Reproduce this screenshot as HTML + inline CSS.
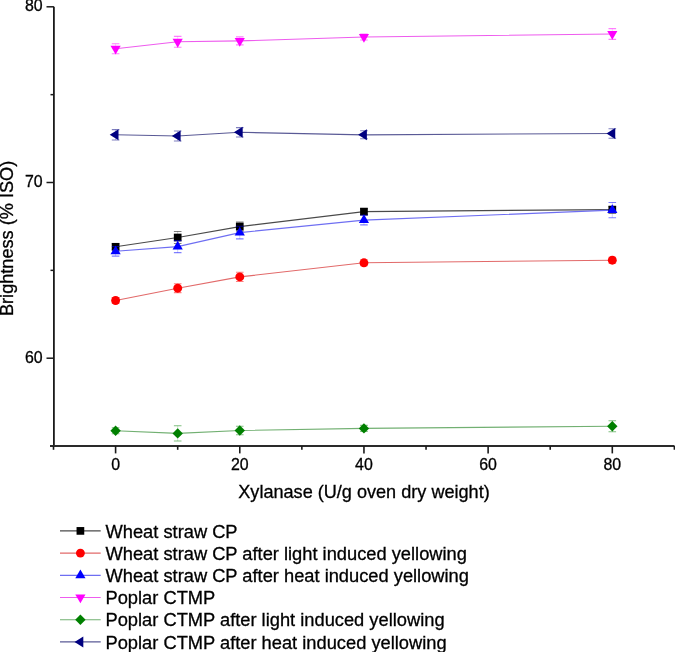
<!DOCTYPE html>
<html><head><meta charset="utf-8"><style>
html,body{margin:0;padding:0;background:#fff;}
body{width:675px;height:652px;overflow:hidden;font-family:"Liberation Sans",sans-serif;}
svg{display:block;}
text{stroke:#000;stroke-width:0.3px;}
</style></head><body>
<svg style="will-change:transform" width="675" height="652" viewBox="0 0 675 652">
<path d="M53.9 6.8V446.0" stroke="#1a1a1a" stroke-width="1.8" fill="none"/>
<path d="M50 446.0H674.5" stroke="#2a2a2a" stroke-width="1.9" fill="none"/>
<path d="M46.5 6.80H53.9" stroke="#1a1a1a" stroke-width="1.5"/>
<path d="M46.5 182.50H53.9" stroke="#1a1a1a" stroke-width="1.5"/>
<path d="M46.5 358.20H53.9" stroke="#1a1a1a" stroke-width="1.5"/>
<path d="M50.5 94.65H53.9" stroke="#1a1a1a" stroke-width="1.5"/>
<path d="M50.5 270.35H53.9" stroke="#1a1a1a" stroke-width="1.5"/>
<path d="M115.60 446.0V453.4" stroke="#1a1a1a" stroke-width="1.6"/>
<path d="M239.77 446.0V453.4" stroke="#1a1a1a" stroke-width="1.6"/>
<path d="M363.95 446.0V453.4" stroke="#1a1a1a" stroke-width="1.6"/>
<path d="M488.12 446.0V453.4" stroke="#1a1a1a" stroke-width="1.6"/>
<path d="M612.30 446.0V453.4" stroke="#1a1a1a" stroke-width="1.6"/>
<path d="M53.51 446.0V449.8" stroke="#1a1a1a" stroke-width="1.6"/>
<path d="M177.69 446.0V449.8" stroke="#1a1a1a" stroke-width="1.6"/>
<path d="M301.86 446.0V449.8" stroke="#1a1a1a" stroke-width="1.6"/>
<path d="M426.04 446.0V449.8" stroke="#1a1a1a" stroke-width="1.6"/>
<path d="M550.21 446.0V449.8" stroke="#1a1a1a" stroke-width="1.6"/>
<path d="M674.39 446.0V449.8" stroke="#1a1a1a" stroke-width="1.6"/>
<text x="42.6" y="11.10" text-anchor="end" font-size="15.9" font-family="Liberation Sans, sans-serif">80</text>
<text x="42.6" y="186.80" text-anchor="end" font-size="15.9" font-family="Liberation Sans, sans-serif">70</text>
<text x="42.6" y="362.50" text-anchor="end" font-size="15.9" font-family="Liberation Sans, sans-serif">60</text>
<text x="115.60" y="469.5" text-anchor="middle" font-size="15.9" font-family="Liberation Sans, sans-serif">0</text>
<text x="239.77" y="469.5" text-anchor="middle" font-size="15.9" font-family="Liberation Sans, sans-serif">20</text>
<text x="363.95" y="469.5" text-anchor="middle" font-size="15.9" font-family="Liberation Sans, sans-serif">40</text>
<text x="488.12" y="469.5" text-anchor="middle" font-size="15.9" font-family="Liberation Sans, sans-serif">60</text>
<text x="612.30" y="469.5" text-anchor="middle" font-size="15.9" font-family="Liberation Sans, sans-serif">80</text>
<text x="364" y="498.2" text-anchor="middle" font-size="18.1" font-family="Liberation Sans, sans-serif">Xylanase (U/g oven dry weight)</text>
<text transform="translate(13.3 238.4) rotate(-90)" x="0" y="0" text-anchor="middle" font-size="18.15" font-family="Liberation Sans, sans-serif">Brightness (% ISO)</text>
<polyline points="115.60,246.80 177.69,237.50 239.77,226.60 363.95,211.60 612.30,209.60" fill="none" stroke="#4a4a4a" stroke-width="1.15"/>
<polyline points="115.60,300.50 177.69,288.20 239.77,276.90 363.95,262.80 612.30,260.20" fill="none" stroke="#e26a6a" stroke-width="1.15"/>
<polyline points="115.60,251.30 177.69,246.60 239.77,232.60 363.95,220.10 612.30,210.10" fill="none" stroke="#6e6ef2" stroke-width="1.15"/>
<polyline points="115.60,48.70 177.69,41.80 239.77,40.90 363.95,37.00 612.30,34.00" fill="none" stroke="#ee5cee" stroke-width="1.15"/>
<polyline points="115.60,430.70 177.69,433.40 239.77,430.50 363.95,428.40 612.30,426.30" fill="none" stroke="#72b072" stroke-width="1.15"/>
<polyline points="115.60,134.80 177.69,136.00 239.77,132.30 363.95,134.80 612.30,133.50" fill="none" stroke="#5a5a96" stroke-width="1.15"/>
<path d="M115.60 243.80V249.80" stroke="#000000" stroke-width="0.8" stroke-opacity="0.25" fill="none"/>
<path d="M111.80 243.80H119.40M111.80 249.80H119.40" stroke="#000000" stroke-width="1.1" stroke-opacity="0.5" fill="none"/>
<path d="M177.69 231.50V243.50" stroke="#000000" stroke-width="0.8" stroke-opacity="0.25" fill="none"/>
<path d="M173.89 231.50H181.49M173.89 243.50H181.49" stroke="#000000" stroke-width="1.1" stroke-opacity="0.5" fill="none"/>
<path d="M239.77 222.10V231.10" stroke="#000000" stroke-width="0.8" stroke-opacity="0.25" fill="none"/>
<path d="M235.97 222.10H243.57M235.97 231.10H243.57" stroke="#000000" stroke-width="1.1" stroke-opacity="0.5" fill="none"/>
<path d="M363.95 208.60V214.60" stroke="#000000" stroke-width="0.8" stroke-opacity="0.25" fill="none"/>
<path d="M360.15 208.60H367.75M360.15 214.60H367.75" stroke="#000000" stroke-width="1.1" stroke-opacity="0.5" fill="none"/>
<path d="M612.30 206.60V212.60" stroke="#000000" stroke-width="0.8" stroke-opacity="0.25" fill="none"/>
<path d="M608.50 206.60H616.10M608.50 212.60H616.10" stroke="#000000" stroke-width="1.1" stroke-opacity="0.5" fill="none"/>
<rect x="111.75" y="242.95" width="7.70" height="7.70" fill="#000000"/>
<rect x="173.84" y="233.65" width="7.70" height="7.70" fill="#000000"/>
<rect x="235.92" y="222.75" width="7.70" height="7.70" fill="#000000"/>
<rect x="360.10" y="207.75" width="7.70" height="7.70" fill="#000000"/>
<rect x="608.45" y="205.75" width="7.70" height="7.70" fill="#000000"/>
<path d="M115.60 297.50V303.50" stroke="#ff0000" stroke-width="0.8" stroke-opacity="0.25" fill="none"/>
<path d="M111.80 297.50H119.40M111.80 303.50H119.40" stroke="#ff0000" stroke-width="1.1" stroke-opacity="0.5" fill="none"/>
<path d="M177.69 283.80V292.60" stroke="#ff0000" stroke-width="0.8" stroke-opacity="0.25" fill="none"/>
<path d="M173.89 283.80H181.49M173.89 292.60H181.49" stroke="#ff0000" stroke-width="1.1" stroke-opacity="0.5" fill="none"/>
<path d="M239.77 272.30V281.50" stroke="#ff0000" stroke-width="0.8" stroke-opacity="0.25" fill="none"/>
<path d="M235.97 272.30H243.57M235.97 281.50H243.57" stroke="#ff0000" stroke-width="1.1" stroke-opacity="0.5" fill="none"/>
<path d="M363.95 259.80V265.80" stroke="#ff0000" stroke-width="0.8" stroke-opacity="0.25" fill="none"/>
<path d="M360.15 259.80H367.75M360.15 265.80H367.75" stroke="#ff0000" stroke-width="1.1" stroke-opacity="0.5" fill="none"/>
<path d="M612.30 257.20V263.20" stroke="#ff0000" stroke-width="0.8" stroke-opacity="0.25" fill="none"/>
<path d="M608.50 257.20H616.10M608.50 263.20H616.10" stroke="#ff0000" stroke-width="1.1" stroke-opacity="0.5" fill="none"/>
<circle cx="115.60" cy="300.50" r="4.45" fill="#ff0000"/>
<circle cx="177.69" cy="288.20" r="4.45" fill="#ff0000"/>
<circle cx="239.77" cy="276.90" r="4.45" fill="#ff0000"/>
<circle cx="363.95" cy="262.80" r="4.45" fill="#ff0000"/>
<circle cx="612.30" cy="260.20" r="4.45" fill="#ff0000"/>
<path d="M115.60 246.50V256.10" stroke="#0000ff" stroke-width="0.8" stroke-opacity="0.25" fill="none"/>
<path d="M111.80 246.50H119.40M111.80 256.10H119.40" stroke="#0000ff" stroke-width="1.1" stroke-opacity="0.5" fill="none"/>
<path d="M177.69 240.60V252.60" stroke="#0000ff" stroke-width="0.8" stroke-opacity="0.25" fill="none"/>
<path d="M173.89 240.60H181.49M173.89 252.60H181.49" stroke="#0000ff" stroke-width="1.1" stroke-opacity="0.5" fill="none"/>
<path d="M239.77 226.30V238.90" stroke="#0000ff" stroke-width="0.8" stroke-opacity="0.25" fill="none"/>
<path d="M235.97 226.30H243.57M235.97 238.90H243.57" stroke="#0000ff" stroke-width="1.1" stroke-opacity="0.5" fill="none"/>
<path d="M363.95 215.30V224.90" stroke="#0000ff" stroke-width="0.8" stroke-opacity="0.25" fill="none"/>
<path d="M360.15 215.30H367.75M360.15 224.90H367.75" stroke="#0000ff" stroke-width="1.1" stroke-opacity="0.5" fill="none"/>
<path d="M612.30 202.50V217.70" stroke="#0000ff" stroke-width="0.8" stroke-opacity="0.25" fill="none"/>
<path d="M608.50 202.50H616.10M608.50 217.70H616.10" stroke="#0000ff" stroke-width="1.1" stroke-opacity="0.5" fill="none"/>
<path d="M115.60 245.43L120.70 254.23L110.50 254.23Z" fill="#0000ff"/>
<path d="M177.69 240.73L182.79 249.53L172.59 249.53Z" fill="#0000ff"/>
<path d="M239.77 226.73L244.87 235.53L234.67 235.53Z" fill="#0000ff"/>
<path d="M363.95 214.23L369.05 223.03L358.85 223.03Z" fill="#0000ff"/>
<path d="M612.30 204.23L617.40 213.03L607.20 213.03Z" fill="#0000ff"/>
<path d="M115.60 43.70V53.70" stroke="#ff00ff" stroke-width="0.8" stroke-opacity="0.25" fill="none"/>
<path d="M111.80 43.70H119.40M111.80 53.70H119.40" stroke="#ff00ff" stroke-width="1.1" stroke-opacity="0.5" fill="none"/>
<path d="M177.69 36.40V47.20" stroke="#ff00ff" stroke-width="0.8" stroke-opacity="0.25" fill="none"/>
<path d="M173.89 36.40H181.49M173.89 47.20H181.49" stroke="#ff00ff" stroke-width="1.1" stroke-opacity="0.5" fill="none"/>
<path d="M239.77 36.90V44.90" stroke="#ff00ff" stroke-width="0.8" stroke-opacity="0.25" fill="none"/>
<path d="M235.97 36.90H243.57M235.97 44.90H243.57" stroke="#ff00ff" stroke-width="1.1" stroke-opacity="0.5" fill="none"/>
<path d="M363.95 34.00V40.00" stroke="#ff00ff" stroke-width="0.8" stroke-opacity="0.25" fill="none"/>
<path d="M360.15 34.00H367.75M360.15 40.00H367.75" stroke="#ff00ff" stroke-width="1.1" stroke-opacity="0.5" fill="none"/>
<path d="M612.30 28.60V39.40" stroke="#ff00ff" stroke-width="0.8" stroke-opacity="0.25" fill="none"/>
<path d="M608.50 28.60H616.10M608.50 39.40H616.10" stroke="#ff00ff" stroke-width="1.1" stroke-opacity="0.5" fill="none"/>
<path d="M115.60 54.57L120.70 45.77L110.50 45.77Z" fill="#ff00ff"/>
<path d="M177.69 47.67L182.79 38.87L172.59 38.87Z" fill="#ff00ff"/>
<path d="M239.77 46.77L244.87 37.97L234.67 37.97Z" fill="#ff00ff"/>
<path d="M363.95 42.87L369.05 34.07L358.85 34.07Z" fill="#ff00ff"/>
<path d="M612.30 39.87L617.40 31.07L607.20 31.07Z" fill="#ff00ff"/>
<path d="M115.60 427.70V433.70" stroke="#008000" stroke-width="0.8" stroke-opacity="0.25" fill="none"/>
<path d="M111.80 427.70H119.40M111.80 433.70H119.40" stroke="#008000" stroke-width="1.1" stroke-opacity="0.5" fill="none"/>
<path d="M177.69 425.80V441.00" stroke="#008000" stroke-width="0.8" stroke-opacity="0.25" fill="none"/>
<path d="M173.89 425.80H181.49M173.89 441.00H181.49" stroke="#008000" stroke-width="1.1" stroke-opacity="0.5" fill="none"/>
<path d="M239.77 426.20V434.80" stroke="#008000" stroke-width="0.8" stroke-opacity="0.25" fill="none"/>
<path d="M235.97 426.20H243.57M235.97 434.80H243.57" stroke="#008000" stroke-width="1.1" stroke-opacity="0.5" fill="none"/>
<path d="M363.95 425.40V431.40" stroke="#008000" stroke-width="0.8" stroke-opacity="0.25" fill="none"/>
<path d="M360.15 425.40H367.75M360.15 431.40H367.75" stroke="#008000" stroke-width="1.1" stroke-opacity="0.5" fill="none"/>
<path d="M612.30 420.80V431.80" stroke="#008000" stroke-width="0.8" stroke-opacity="0.25" fill="none"/>
<path d="M608.50 420.80H616.10M608.50 431.80H616.10" stroke="#008000" stroke-width="1.1" stroke-opacity="0.5" fill="none"/>
<path d="M115.60 425.50L120.80 430.70L115.60 435.90L110.40 430.70Z" fill="#008000"/>
<path d="M177.69 428.20L182.89 433.40L177.69 438.60L172.49 433.40Z" fill="#008000"/>
<path d="M239.77 425.30L244.97 430.50L239.77 435.70L234.57 430.50Z" fill="#008000"/>
<path d="M363.95 423.20L369.15 428.40L363.95 433.60L358.75 428.40Z" fill="#008000"/>
<path d="M612.30 421.10L617.50 426.30L612.30 431.50L607.10 426.30Z" fill="#008000"/>
<path d="M115.60 129.60V140.00" stroke="#000080" stroke-width="0.8" stroke-opacity="0.25" fill="none"/>
<path d="M111.80 129.60H119.40M111.80 140.00H119.40" stroke="#000080" stroke-width="1.1" stroke-opacity="0.5" fill="none"/>
<path d="M177.69 131.00V141.00" stroke="#000080" stroke-width="0.8" stroke-opacity="0.25" fill="none"/>
<path d="M173.89 131.00H181.49M173.89 141.00H181.49" stroke="#000080" stroke-width="1.1" stroke-opacity="0.5" fill="none"/>
<path d="M239.77 127.60V137.00" stroke="#000080" stroke-width="0.8" stroke-opacity="0.25" fill="none"/>
<path d="M235.97 127.60H243.57M235.97 137.00H243.57" stroke="#000080" stroke-width="1.1" stroke-opacity="0.5" fill="none"/>
<path d="M363.95 130.80V138.80" stroke="#000080" stroke-width="0.8" stroke-opacity="0.25" fill="none"/>
<path d="M360.15 130.80H367.75M360.15 138.80H367.75" stroke="#000080" stroke-width="1.1" stroke-opacity="0.5" fill="none"/>
<path d="M612.30 128.70V138.30" stroke="#000080" stroke-width="0.8" stroke-opacity="0.25" fill="none"/>
<path d="M608.50 128.70H616.10M608.50 138.30H616.10" stroke="#000080" stroke-width="1.1" stroke-opacity="0.5" fill="none"/>
<path d="M109.73 134.80L118.53 129.30L118.53 140.30Z" fill="#000080"/>
<path d="M171.82 136.00L180.62 130.50L180.62 141.50Z" fill="#000080"/>
<path d="M233.91 132.30L242.71 126.80L242.71 137.80Z" fill="#000080"/>
<path d="M358.08 134.80L366.88 129.30L366.88 140.30Z" fill="#000080"/>
<path d="M606.43 133.50L615.23 128.00L615.23 139.00Z" fill="#000080"/>
<path d="M60 530.90H100.7" stroke="#4a4a4a" stroke-width="1.15"/>
<rect x="76.55" y="527.05" width="7.70" height="7.70" fill="#000000"/>
<text x="105.5" y="537.50" font-size="18.3" font-family="Liberation Sans, sans-serif">Wheat straw CP</text>
<path d="M60 553.10H100.7" stroke="#e26a6a" stroke-width="1.15"/>
<circle cx="80.40" cy="553.10" r="4.45" fill="#ff0000"/>
<text x="105.5" y="559.70" font-size="18.3" font-family="Liberation Sans, sans-serif">Wheat straw CP after light induced yellowing</text>
<path d="M60 575.30H100.7" stroke="#6e6ef2" stroke-width="1.15"/>
<path d="M80.40 569.43L85.50 578.23L75.30 578.23Z" fill="#0000ff"/>
<text x="105.5" y="581.90" font-size="18.3" font-family="Liberation Sans, sans-serif">Wheat straw CP after heat induced yellowing</text>
<path d="M60 597.50H100.7" stroke="#ee5cee" stroke-width="1.15"/>
<path d="M80.40 603.37L85.50 594.57L75.30 594.57Z" fill="#ff00ff"/>
<text x="105.5" y="604.10" font-size="18.3" font-family="Liberation Sans, sans-serif">Poplar CTMP</text>
<path d="M60 619.70H100.7" stroke="#72b072" stroke-width="1.15"/>
<path d="M80.40 614.50L85.60 619.70L80.40 624.90L75.20 619.70Z" fill="#008000"/>
<text x="105.5" y="626.30" font-size="18.3" font-family="Liberation Sans, sans-serif">Poplar CTMP after light induced yellowing</text>
<path d="M60 641.90H100.7" stroke="#5a5a96" stroke-width="1.15"/>
<path d="M74.53 641.90L83.33 636.40L83.33 647.40Z" fill="#000080"/>
<text x="105.5" y="648.50" font-size="18.3" font-family="Liberation Sans, sans-serif">Poplar CTMP after heat induced yellowing</text>
</svg>
</body></html>
